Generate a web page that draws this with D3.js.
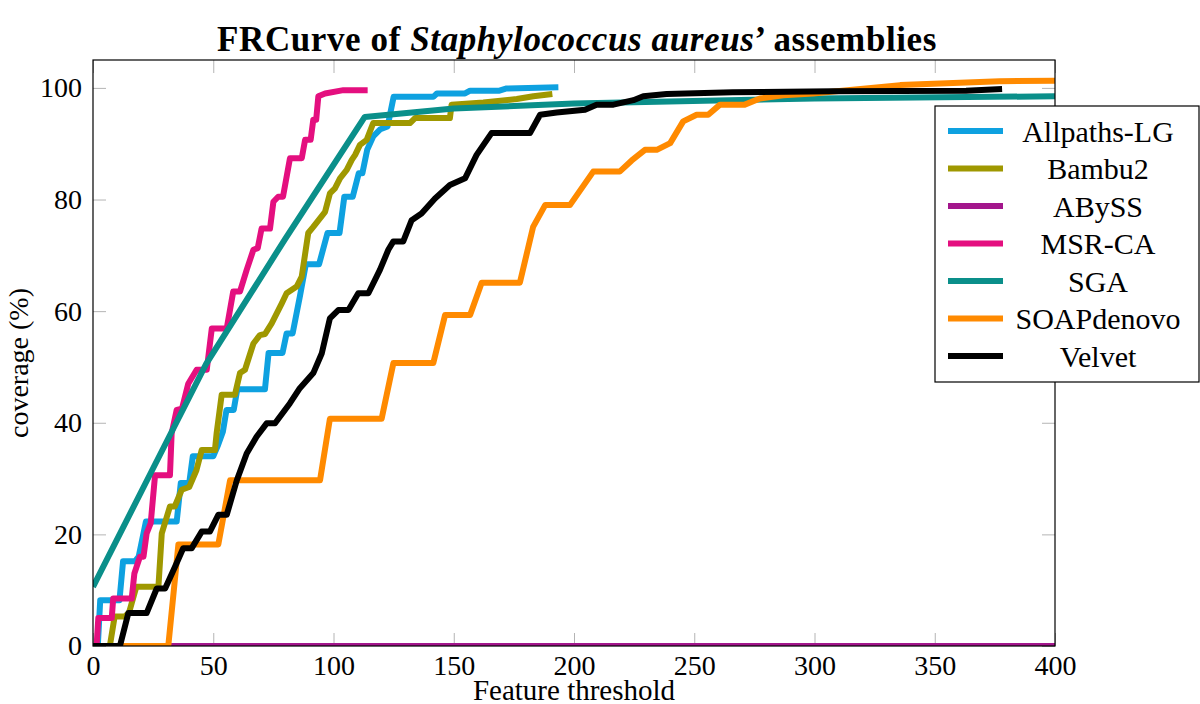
<!DOCTYPE html>
<html>
<head>
<meta charset="utf-8">
<script src="https://cdn.jsdelivr.net/npm/d3@7"></script>
<style>
  html, body { margin: 0; padding: 0; background: #fff; }
  svg { display: block; }
  text { font-family: "Liberation Serif", "DejaVu Serif", serif; fill: #000; }
</style>
</head>
<body>
<svg id="chart" width="1200" height="704"></svg>
<script>
// ---------- data ----------
const seriesNames = ["Allpaths-LG", "Bambu2", "ABySS", "MSR-CA", "SGA", "SOAPdenovo", "Velvet"];
const seriesColors = ["#0ea1e0", "#9f9800", "#a3168c", "#e40f7f", "#0a8f8a", "#ff8a00", "#000000"];

const xTicks = [0, 50, 100, 150, 200, 250, 300, 350, 400];
const yTicks = [0, 20, 40, 60, 80, 100];

const allpathsLG = [[0,0],[2,0],[3,8.2],[11,8.2],[12.5,15.2],[17.5,15.2],[19,16],[22,22.3],[34.8,22.3],[36.5,29.2],[40,29.2],[41.5,34],[50,34],[52,36],[54,38.4],[55.5,42.3],[58.5,42.3],[60,46],[71.5,46],[73,52.5],[78.8,52.5],[80.5,56],[83,56],[86,62.6],[88.5,68.4],[94,68.4],[97.5,74],[102.5,74],[104.5,80.5],[108,80.5],[110.5,84.7],[112,84.7],[114,88.9],[116.5,91.3],[119.5,92.6],[122.5,93.1],[125,98.4],[141.5,98.4],[143,99],[154.7,99],[156.8,99.5],[169,99.5],[172,99.9],[193.5,100.1]];

const bambu2 = [[0,0],[7,0],[9,5.3],[13.3,5.3],[15,6],[18,10.6],[27.2,10.6],[28.6,20.2],[32,25],[34,25],[36.9,28],[40,28.5],[43,31.5],[45.2,35.1],[50.7,35.1],[51.4,38.1],[53.5,45],[59,45],[61.1,48.9],[63.2,49.5],[66.7,54.2],[69.4,55.7],[71.5,55.9],[74.3,57.8],[78.5,61.4],[80.5,63.2],[84.7,64.4],[86.8,66.2],[89.5,74],[91.6,75.1],[96.5,77.8],[98.5,81.1],[100.6,82],[102.7,83.8],[105.5,85.3],[107.6,87.1],[109,88],[111,89.8],[113.8,90.7],[116.5,93.7],[131.8,93.7],[133.9,94.6],[148.4,94.6],[149.1,97],[162.3,97.4],[176.2,98],[183.1,98.5],[191,98.9]];

const abyss = [[0,0],[400,0]];

const msrCA = [[0,0],[1.5,0],[2.2,5],[7.8,5],[8.4,8.5],[16.1,8.5],[17.2,13],[19.5,16],[21,16],[22.3,20.2],[24,22],[25.8,30.6],[32,30.6],[32.7,38.1],[34.8,42.3],[37,42.5],[39.6,47],[43.1,49.5],[47.3,49.5],[49.4,56.9],[55.6,56.9],[58.3,63.5],[61.1,63.5],[63.9,67.4],[66.7,71],[68.5,71.3],[70.1,74.8],[73.6,74.8],[75,79.6],[77,80.5],[79,80.5],[81.9,87.4],[86.8,87.4],[88.2,90.7],[90.5,90.7],[91.6,94.3],[92.8,94.3],[93.7,98.5],[96.5,99],[104.1,99.6],[114.2,99.6]];

const sga = [[0,10.6],[24,31],[47,50.5],[80,73],[113,94.8],[150,96.3],[200,97.2],[300,98.1],[400,98.5]];

const soapdenovo = [[0,0],[31.3,0],[35.5,18.2],[52.1,18.2],[57,29.7],[94.4,29.7],[98.5,40.7],[120,40.7],[124.9,50.7],[141.5,50.7],[146.4,59.3],[156.8,59.3],[161.6,65.1],[177.5,65.1],[183,75.1],[188,79],[198.3,79],[208,85],[219,85],[224,87],[229.5,88.9],[234.4,88.9],[240,90.1],[245.4,94],[251,95.2],[255.8,95.2],[260.7,97],[271,97],[277.3,98.1],[287,98.7],[299.4,99],[335.6,100.5],[377,101.2],[400,101.3]];

const velvet = [[0,0],[11.2,0],[14.7,5.9],[22.3,5.9],[26.5,10.3],[30,10.3],[34.1,14.2],[37.5,17.5],[41,17.5],[45.2,20.5],[48.6,20.5],[52.1,23.5],[55.6,23.5],[59.8,29.7],[63.9,34.5],[68,37.5],[72.2,39.9],[75.7,39.9],[81.9,43.5],[86,46.2],[91.6,48.9],[95.1,52.4],[98.5,58.7],[102,60.2],[106.2,60.2],[110.3,63.2],[114.5,63.2],[119.3,67.4],[122.8,71],[124.9,72.5],[129,72.5],[132.5,76.3],[136.6,77.5],[142.2,80.2],[148.4,82.6],[154.7,83.8],[159.5,88],[165.7,91.9],[181.7,91.9],[185.9,95.2],[192.8,95.6],[204.6,96.1],[209.4,97],[216.4,97],[224.7,97.8],[228.8,98.5],[238.5,98.9],[266,99.2],[307.8,99.4],[363,99.5],[378,99.8]];

const seriesData = [allpathsLG, bambu2, abyss, msrCA, sga, soapdenovo, velvet];

// ---------- layout ----------
const L = 93, R = 1055, T = 60, B = 646;
const svg = d3.select("#chart");
const x = d3.scaleLinear().domain([0, 400]).range([L, R]);
const y = d3.scaleLinear().domain([0, 105]).range([B, T]);
const tickColor = "#b4b4b4";
const tickLen = 13;

function styleAxis(g, showLabels) {
  g.select(".domain").remove();
  g.selectAll(".tick line").attr("stroke", tickColor).attr("stroke-width", 1);
  g.selectAll(".tick text")
    .style("font-family", '"Liberation Serif", "DejaVu Serif", serif')
    .style("font-size", "28px")
    .attr("fill", "#000");
  if (!showLabels) g.selectAll(".tick text").remove();
}

svg.append("g").attr("transform", `translate(0,${B})`)
  .call(d3.axisBottom(x).tickValues(xTicks).tickSize(-tickLen).tickPadding(9).tickFormat(d3.format("d")))
  .call(g => styleAxis(g, true));
svg.append("g").attr("transform", `translate(0,${T})`)
  .call(d3.axisTop(x).tickValues(xTicks).tickSize(-tickLen))
  .call(g => styleAxis(g, false));
svg.append("g").attr("transform", `translate(${L},0)`)
  .call(d3.axisLeft(y).tickValues(yTicks).tickSize(-tickLen).tickPadding(11).tickFormat(d3.format("d")))
  .call(g => styleAxis(g, true));
svg.append("g").attr("transform", `translate(${R},0)`)
  .call(d3.axisRight(y).tickValues(yTicks).tickSize(-tickLen))
  .call(g => styleAxis(g, false));

// clip
svg.append("defs").append("clipPath").attr("id", "plotClip")
  .append("rect").attr("x", L).attr("y", T).attr("width", R - L).attr("height", B - T);

const line = d3.line().x(d => x(d[0])).y(d => y(d[1]));
const plot = svg.append("g").attr("clip-path", "url(#plotClip)");
seriesData.forEach((data, i) => {
  plot.append("path")
    .datum(data)
    .attr("d", line)
    .attr("fill", "none")
    .attr("stroke", seriesColors[i])
    .attr("stroke-width", 6)
    .attr("stroke-linejoin", "round");
});

// frame
svg.append("rect").attr("x", L).attr("y", T).attr("width", R - L).attr("height", B - T)
  .attr("fill", "none").attr("stroke", "#000").attr("stroke-width", 1.2);

// axis labels
svg.append("text").attr("x", (L + R) / 2).attr("y", 700).attr("text-anchor", "middle")
  .style("font-size", "29px").text("Feature threshold");
svg.append("text").attr("transform", `translate(28,${(T + B) / 2 + 10}) rotate(-90)`)
  .attr("text-anchor", "middle").style("font-size", "28px").text("coverage (%)");

// title
const title = svg.append("text").attr("x", 577).attr("y", 51).attr("text-anchor", "middle")
  .style("font-size", "35px").style("font-weight", "bold").style("letter-spacing", "0.6px");
title.append("tspan").text("FRCurve of ");
title.append("tspan").style("font-style", "italic").text("Staphylococcus aureus");
title.append("tspan").text("’ assemblies");

// legend
const lg = svg.append("g");
lg.append("rect").attr("x", 935).attr("y", 106).attr("width", 264).attr("height", 276)
  .attr("fill", "#fff").attr("stroke", "#000").attr("stroke-width", 1.2);
seriesNames.forEach((name, i) => {
  const yy = 131 + 37.5 * i;
  lg.append("line").attr("x1", 948).attr("x2", 1003).attr("y1", yy).attr("y2", yy)
    .attr("stroke", seriesColors[i]).attr("stroke-width", 6);
  lg.append("text").attr("x", 1098).attr("y", yy).attr("dy", "0.35em").attr("text-anchor", "middle")
    .style("font-size", "30px").text(name);
});
</script>
</body>
</html>
